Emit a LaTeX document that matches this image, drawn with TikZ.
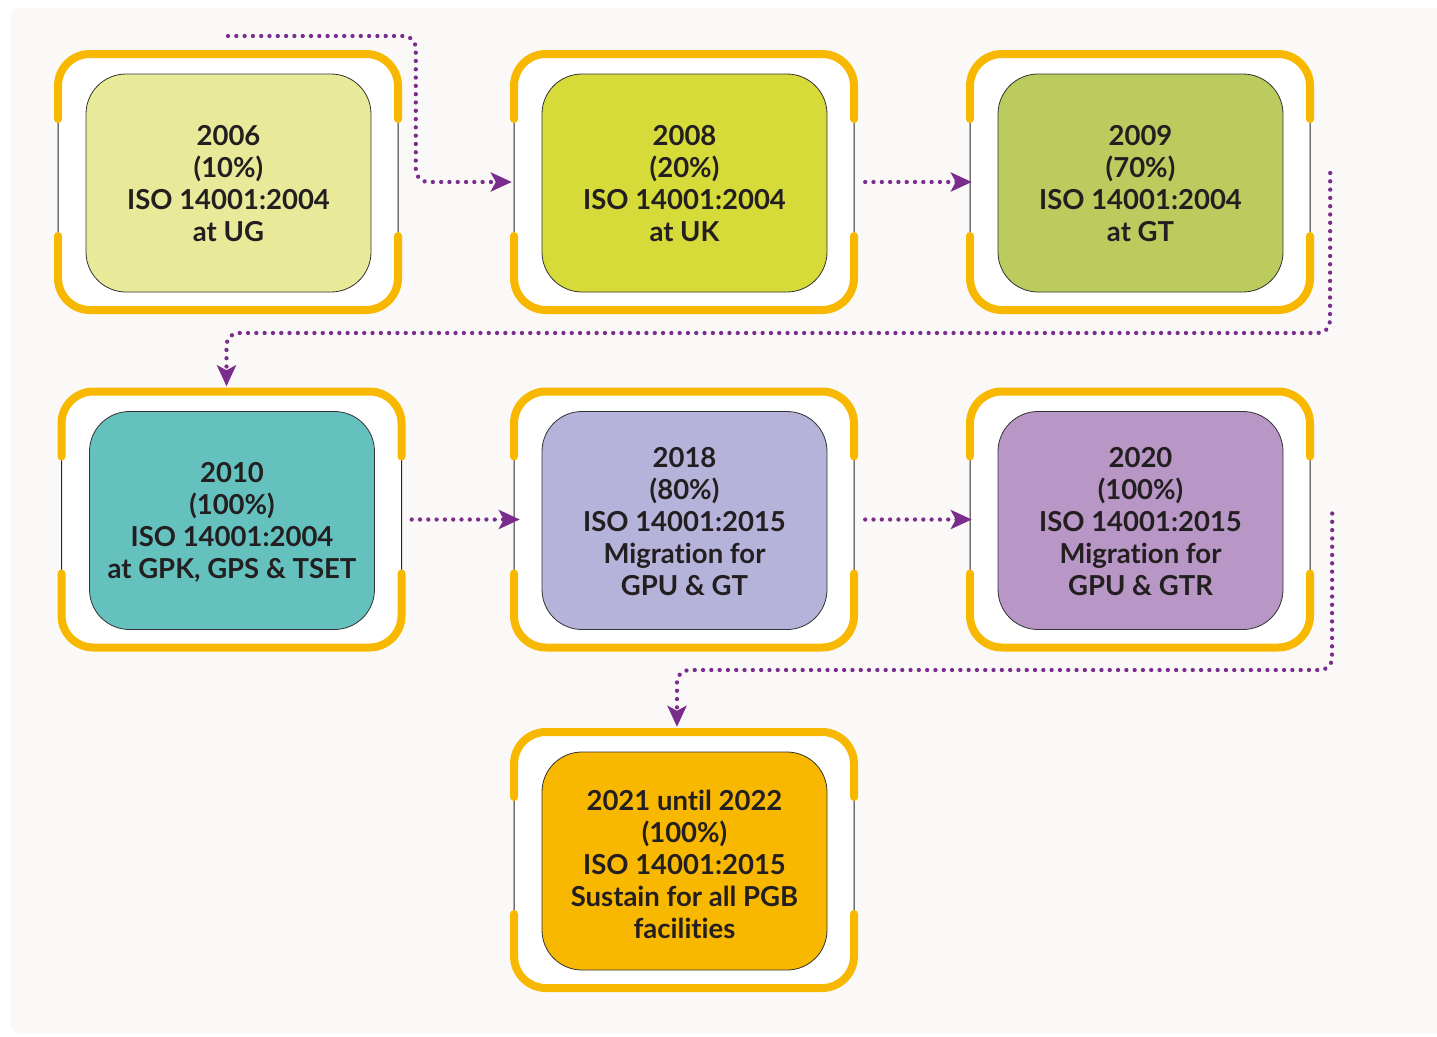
\documentclass[tikz,border=0pt]{standalone}
\usepackage{fontspec}
\setmainfont{Lato}[Ligatures=NoCommon]
\usetikzlibrary{arrows.meta,calc}
\definecolor{yel}{HTML}{F9B800}
\definecolor{pur}{HTML}{7B2D8E}
\definecolor{bg}{HTML}{FAF9F7}
\definecolor{txt}{HTML}{231F20}
\definecolor{ca}{HTML}{E8EA9A}
\definecolor{cb}{HTML}{D6DB3A}
\definecolor{cc}{HTML}{BCCB5E}
\definecolor{cd}{HTML}{65C1BE}
\definecolor{ce}{HTML}{B5B3DA}
\definecolor{cf}{HTML}{B896C6}
\definecolor{cg}{HTML}{F9B800}
\newcommand{\tlbox}[6][1]{%
 \begin{scope}[shift={(#3,#4)}]
  \node[framebox] (f#2) at (0,0) {};
  \draw[black!85,line width=1pt,fill=white,rounded corners=32pt] (-170,-128) rectangle (170,128);
  \draw[ybar] (-170,-63) -- (-170,-128) -- (170,-128) -- (170,-63);
  \draw[ybar] (-170,54) -- (-170,128) -- (170,128) -- (170,54);
  \node[innerbox,fill=#5] (b#2) at (0.5,1) {};
  \node[boxtext] (t#2) at (0.5,#1) {#6};
 \end{scope}}
\begin{document}
\begin{tikzpicture}[x=1pt,y=-1pt,
 framebox/.style={minimum width=348pt,minimum height=264pt,inner sep=0pt,draw=none},
 innerbox/.style={draw=black!80,line width=0.8pt,rounded corners=40pt,minimum width=285pt,minimum height=218pt,inner sep=0pt},
 boxtext/.style={inner sep=0pt,align=center,text=txt,font=\fontsize{27.5}{32}\selectfont\bfseries},
 ybar/.style={draw=yel,line width=8pt,line cap=round,rounded corners=32pt},
 conn/.style={draw=pur,line width=4.3pt,line cap=round,dash pattern=on 0pt off 8.3pt,rounded corners=12pt,-{Stealth[length=21pt,width=19pt,inset=5pt]}}
]
\useasboundingbox (0,0) rectangle (1437,1036);
\fill[bg,rounded corners=10pt] (10,8) rectangle (1460,1033);

\tlbox[2]{1}{228}{182}{ca}{2006\\(10\%)\\ISO 14001:2004\\at UG}
\tlbox[2]{2}{684}{182}{cb}{2008\\(20\%)\\ISO 14001:2004\\at UK}
\tlbox[2]{3}{1140}{182}{cc}{2009\\(70\%)\\ISO 14001:2004\\at GT}
\tlbox[3]{4}{231.5}{519.5}{cd}{2010\\(100\%)\\ISO 14001:2004\\at GPK, GPS \& TSET}
\tlbox[2]{5}{684}{519.5}{ce}{2018\\(80\%)\\ISO 14001:2015\\Migration for\\GPU \& GT}
\tlbox[2]{6}{1140}{519.5}{cf}{2020\\(100\%)\\ISO 14001:2015\\Migration for\\GPU \& GTR}
\tlbox[4]{7}{684}{860}{cg}{2021 until 2022\\(100\%)\\ISO 14001:2015\\Sustain for all PGB\\facilities}

\coordinate (s0) at (228,36);
\coordinate (m1) at (1330,333);
\coordinate (m2) at (1332,670);
\draw[conn] (s0) -| ([xshift=-94pt]f2.west) -- ([xshift=2pt]f2.west);
\draw[conn] ([xshift=7pt]f2.east) -- ([xshift=6pt]f3.west);
\draw[conn] ([xshift=16pt,yshift=9pt]f3.east) -- (m1) -| ([xshift=-5pt,yshift=1pt]f4.north);
\draw[conn] ([xshift=6pt]f4.east) -- ([xshift=10pt]f5.west);
\draw[conn] ([xshift=7pt]f5.east) -- ([xshift=6pt]f6.west);
\draw[conn] ([xshift=18pt,yshift=6pt]f6.east) -- (m2) -| ([xshift=-7pt,yshift=1pt]f7.north);
\end{tikzpicture}
\end{document}
